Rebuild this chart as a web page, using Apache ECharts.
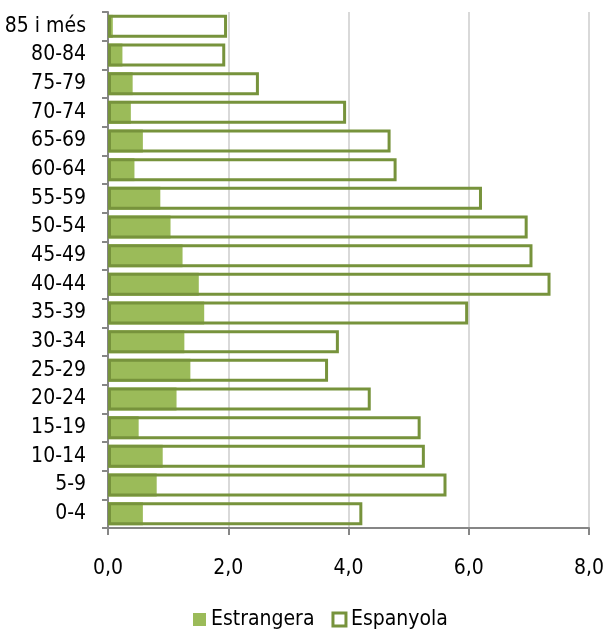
<!DOCTYPE html>
<html>
<head>
<meta charset="utf-8">
<script src="https://cdn.jsdelivr.net/npm/echarts@6/dist/echarts.min.js"></script>
<style>
  html, body { margin: 0; padding: 0; background: #fff; }
  #chart { width: 603px; height: 630px; }
</style>
</head>
<body>
<div id="chart"></div>
<script>
// Age groups, bottom to top
const ageGroups = ['0-4', '5-9', '10-14', '15-19', '20-24', '25-29', '30-34', '35-39',
  '40-44', '45-49', '50-54', '55-59', '60-64', '65-69', '70-74', '75-79', '80-84', '85 i més'];

// Share of population (%) by nationality
const estrangera = [0.58, 0.81, 0.91, 0.51, 1.14, 1.37, 1.27, 1.60,
  1.51, 1.24, 1.04, 0.87, 0.44, 0.58, 0.38, 0.41, 0.24, 0.08];
const espanyola = [4.23, 5.63, 5.27, 5.20, 4.37, 3.66, 3.84, 5.99,
  7.36, 7.06, 6.98, 6.22, 4.80, 4.70, 3.96, 2.51, 1.95, 1.98];

const xTicks = { min: 0, max: 8, step: 2 };

const FONT = "'DejaVu Sans Condensed', 'Liberation Sans Narrow', sans-serif";
const FILL = '#9BBB59';
const EDGE = '#77933C';

const chart = echarts.init(document.getElementById('chart'), null, { renderer: 'canvas' });
chart.setOption({
  animation: false,
  backgroundColor: '#fff',
  grid: { left: 108, right: 14, top: 12, bottom: 102, containLabel: false, outerBoundsMode: 'none' },
  legend: {
    top: 609,
    left: 193,
    padding: 0,
    itemWidth: 13,
    itemHeight: 13,
    itemGap: 17,
    textStyle: { fontFamily: FONT, fontSize: 21, color: '#000' },
    data: [
      { name: 'Estrangera', icon: 'rect', itemStyle: { color: FILL, borderWidth: 0 } },
      { name: 'Espanyola', icon: 'rect', itemStyle: { color: '#fff', borderColor: EDGE, borderWidth: 3 } }
    ]
  },
  xAxis: {
    type: 'value',
    min: xTicks.min,
    max: xTicks.max,
    interval: xTicks.step,
    axisLine: { show: true, lineStyle: { color: '#868686', width: 2 } },
    axisTick: { show: true, length: 7, lineStyle: { color: '#868686', width: 2 } },
    axisLabel: {
      margin: 30,
      fontFamily: FONT, fontSize: 21, color: '#000',
      formatter: v => v.toFixed(1).replace('.', ',')
    },
    splitLine: { show: true, lineStyle: { color: '#D9D9D9', width: 2 } }
  },
  yAxis: {
    type: 'category',
    data: ageGroups,
    axisLine: { show: true, lineStyle: { color: '#868686', width: 2 } },
    axisTick: { show: true, length: 6, lineStyle: { color: '#868686', width: 2 } },
    axisLabel: { margin: 22, fontFamily: FONT, fontSize: 21, color: '#000' }
  },
  series: [
    {
      name: 'Estrangera',
      type: 'bar',
      data: estrangera,
      barWidth: '80%',
      itemStyle: { color: FILL }
    },
    {
      name: 'Espanyola',
      type: 'bar',
      data: espanyola,
      barWidth: '80%',
      barGap: '-100%',
      itemStyle: { color: 'rgba(255,255,255,0)', borderColor: EDGE, borderWidth: 3 }
    }
  ]
});
</script>
</body>
</html>
